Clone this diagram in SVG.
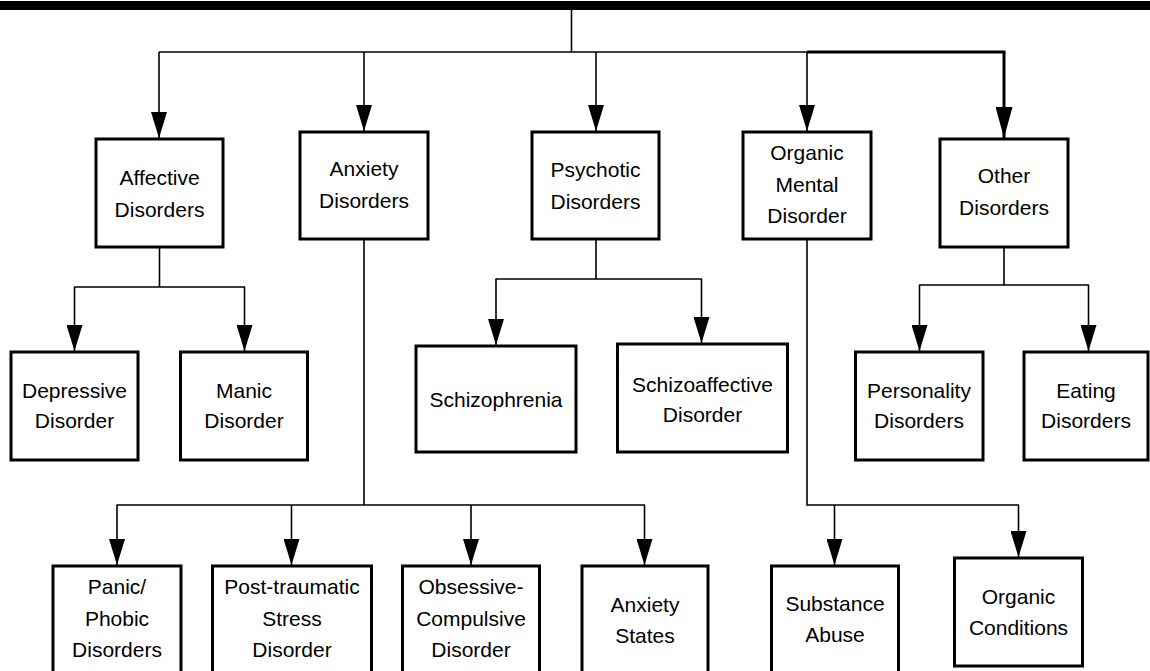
<svg xmlns="http://www.w3.org/2000/svg" width="1150" height="671" viewBox="0 0 1150 671">
<style>
.box{fill:#fff;stroke:#000;stroke-width:3}
.c{fill:none;stroke:#000;stroke-width:1.6}
.ct{fill:none;stroke:#000;stroke-width:3}
text{font-family:"Liberation Sans",Arial,Helvetica,sans-serif;font-size:21px;fill:#000;text-anchor:middle}
</style>
<defs>
<marker id="ah" markerUnits="userSpaceOnUse" markerWidth="26" markerHeight="16" viewBox="0 0 26 16" refX="26" refY="8" orient="auto"><path d="M0,0 L26,8 L0,16 z" fill="#000"/></marker>
<marker id="ahb" markerUnits="userSpaceOnUse" markerWidth="31" markerHeight="17" viewBox="0 0 31 17" refX="31" refY="8.5" orient="auto"><path d="M0,0 L31,8.5 L0,17 z" fill="#000"/></marker>
</defs>
<rect width="1150" height="671" fill="#fff"/>
<g id="root"><rect x="0" y="1" width="1150" height="9" fill="#000"/></g>
<g id="connectors">
<path class="c" d="M571.5,10 V52"/>
<path class="c" d="M159,52 H807"/>
<path class="ct" d="M807,52 H1005.5"/>
<path class="c" d="M159,52 V138" marker-end="url(#ah)"/>
<path class="c" d="M364,52 V131" marker-end="url(#ah)"/>
<path class="c" d="M596,52 V131" marker-end="url(#ah)"/>
<path class="c" d="M807,52 V131" marker-end="url(#ah)"/>
<path class="ct" d="M1004,52 V138" marker-end="url(#ahb)"/>
<path class="c" d="M159.5,247 V287 M74,287 H245"/>
<path class="c" d="M74.5,287 V351" marker-end="url(#ah)"/>
<path class="c" d="M244.5,287 V351" marker-end="url(#ah)"/>
<path class="c" d="M596,239 V279 M495.5,279 H702"/>
<path class="c" d="M496,279 V345" marker-end="url(#ah)"/>
<path class="c" d="M701.5,279 V343" marker-end="url(#ah)"/>
<path class="c" d="M1004,247 V285.5 M919,285 H1089"/>
<path class="c" d="M919.5,285 V351" marker-end="url(#ah)"/>
<path class="c" d="M1088.5,285 V351" marker-end="url(#ah)"/>
<path class="c" d="M364,239 V505 M116.5,505 H645"/>
<path class="c" d="M117,505 V565" marker-end="url(#ah)"/>
<path class="c" d="M291.5,505 V565" marker-end="url(#ah)"/>
<path class="c" d="M471,505 V565" marker-end="url(#ah)"/>
<path class="c" d="M644.5,505 V565" marker-end="url(#ah)"/>
<path class="c" d="M807,239 V505 H1019"/>
<path class="c" d="M834.5,505 V565" marker-end="url(#ah)"/>
<path class="c" d="M1018.5,505 V557" marker-end="url(#ah)"/>
</g>
<g id="affective"><rect class="box" x="96" y="139" width="127" height="108"/><text x="159.5" y="185">Affective</text><text x="159.5" y="217">Disorders</text></g>
<g id="anxiety"><rect class="box" x="300" y="132" width="128" height="107"/><text x="364" y="176">Anxiety</text><text x="364" y="208">Disorders</text></g>
<g id="psychotic"><rect class="box" x="532" y="132" width="127" height="107"/><text x="595.5" y="177">Psychotic</text><text x="595.5" y="209">Disorders</text></g>
<g id="organic"><rect class="box" x="743" y="132" width="128" height="107"/><text x="807" y="160">Organic</text><text x="807" y="192">Mental</text><text x="807" y="223">Disorder</text></g>
<g id="other"><rect class="box" x="940" y="139" width="128" height="108"/><text x="1004" y="183">Other</text><text x="1004" y="215">Disorders</text></g>
<g id="depressive"><rect class="box" x="11" y="352" width="127" height="108"/><text x="74.5" y="398">Depressive</text><text x="74.5" y="428">Disorder</text></g>
<g id="manic"><rect class="box" x="180.5" y="352" width="127" height="108"/><text x="244" y="398">Manic</text><text x="244" y="428">Disorder</text></g>
<g id="schizophrenia"><rect class="box" x="416" y="346" width="160" height="106"/><text x="496" y="407">Schizophrenia</text></g>
<g id="schizoaffective"><rect class="box" x="617.5" y="344" width="170" height="108"/><text x="702.5" y="392">Schizoaffective</text><text x="702.5" y="422">Disorder</text></g>
<g id="personality"><rect class="box" x="855.5" y="352" width="127.5" height="108"/><text x="919" y="398">Personality</text><text x="919" y="428">Disorders</text></g>
<g id="eating"><rect class="box" x="1024" y="352" width="124" height="108"/><text x="1086" y="398">Eating</text><text x="1086" y="428">Disorders</text></g>
<g id="panic"><rect class="box" x="53" y="566" width="128" height="120"/><text x="117" y="594">Panic/</text><text x="117" y="626">Phobic</text><text x="117" y="657">Disorders</text></g>
<g id="ptsd"><rect class="box" x="212.5" y="566" width="159" height="120"/><text x="292" y="594">Post-traumatic</text><text x="292" y="626">Stress</text><text x="292" y="657">Disorder</text></g>
<g id="ocd"><rect class="box" x="402.5" y="566" width="137" height="120"/><text x="471" y="594">Obsessive-</text><text x="471" y="626">Compulsive</text><text x="471" y="657">Disorder</text></g>
<g id="anxiety-states"><rect class="box" x="582" y="566" width="126" height="120"/><text x="645" y="612">Anxiety</text><text x="645" y="643">States</text></g>
<g id="substance"><rect class="box" x="771.5" y="566" width="127" height="120"/><text x="835" y="611">Substance</text><text x="835" y="642">Abuse</text></g>
<g id="organic-conditions"><rect class="box" x="954.5" y="558" width="128" height="108"/><text x="1018.5" y="604">Organic</text><text x="1018.5" y="635">Conditions</text></g>
</svg>
